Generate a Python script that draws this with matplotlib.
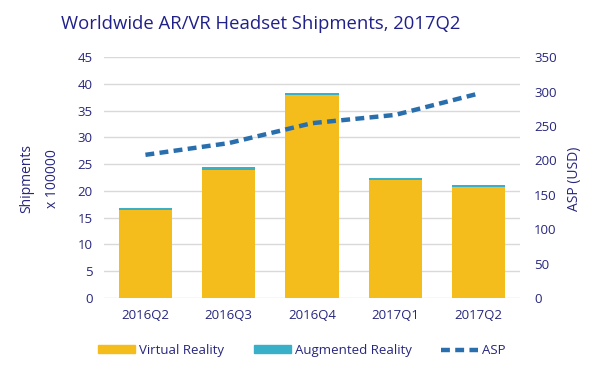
import numpy as np
import matplotlib.pyplot as plt
from matplotlib.patches import Patch
from matplotlib.lines import Line2D

plt.rcParams['font.family'] = ['Open Sans', 'DejaVu Sans']

quarters = ['2016Q2', '2016Q3', '2016Q4', '2017Q1', '2017Q2']
vr = [16.4, 24.0, 37.9, 22.0, 20.8]
ar = [0.45, 0.5, 0.35, 0.5, 0.3]
asp = [208, 225, 254, 266, 297]

navy = '#26267f'
yellow = '#f4bd1c'
teal = '#3aafc8'
blue = '#2a6fad'

fig = plt.figure(figsize=(6, 3.65), dpi=100)
ax = fig.add_axes([0.173, 0.1836, 0.694, 0.66])
x = np.arange(len(quarters))

ax.bar(x, vr, width=0.64, color=yellow, zorder=2)
ax.bar(x, ar, width=0.64, bottom=vr, color=teal, zorder=2)
ax.set_ylim(0, 45)
ax.set_yticks(np.arange(0, 46, 5))
ax.set_xlim(-0.5, 4.5)
ax.set_xticks(x)
ax.set_xticklabels(quarters)
ax.grid(axis='y', color='#d9d9d9', linewidth=1, zorder=0)
for s in ax.spines.values():
    s.set_visible(False)
ax.tick_params(length=0, labelsize=9.5, labelcolor=navy, pad=8)

ax2 = ax.twinx()
ax2.plot(x, asp, color=blue, linestyle=(0, (2, 1.2)), linewidth=3.2, zorder=3)
ax2.set_ylim(0, 350)
ax2.set_yticks(np.arange(0, 351, 50))
for s in ax2.spines.values():
    s.set_visible(False)
ax2.tick_params(length=0, labelsize=9.5, labelcolor=navy, pad=10)

fig.text(0.045, 0.51, 'Shipments', rotation=90, ha='center', va='center', fontsize=10, color=navy)
fig.text(0.087, 0.51, 'x 100000', rotation=90, ha='center', va='center', fontsize=10, color=navy)
fig.text(0.958, 0.51, 'ASP (USD)', rotation=90, ha='center', va='center', fontsize=10, color=navy)
fig.text(0.435, 0.933, 'Worldwide AR/VR Headset Shipments, 2017Q2', ha='center', va='center',
         fontsize=13.3, color='#20208a')

handles = [Patch(color=yellow), Patch(color=teal),
           Line2D([0], [0], color=blue, linestyle=(0, (2, 1.2)), linewidth=3.2)]
labels = ['Virtual Reality', 'Augmented Reality', 'ASP']
leg = fig.legend(handles, labels, loc='center', bbox_to_anchor=(0.503, 0.04), ncol=3, frameon=False,
                 fontsize=9.5, handlelength=2.8, handleheight=0.5, handletextpad=0.3, columnspacing=2.25)
for t in leg.get_texts():
    t.set_color(navy)

fig.savefig('out.png', dpi=100)
